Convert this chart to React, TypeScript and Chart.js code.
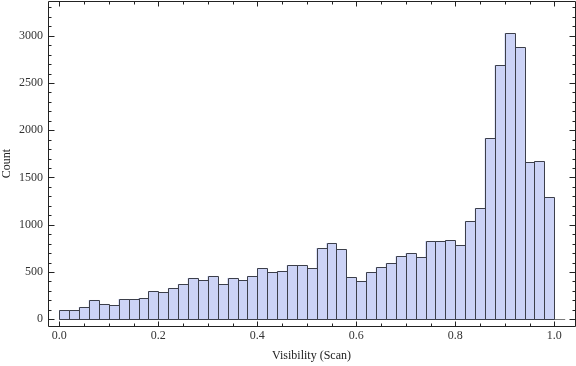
import React, { useEffect, useRef } from 'react';
import { Chart, registerables } from 'chart.js';

Chart.register(...registerables);

// Histogram bins (left edges), bin width 0.02
const binStarts = [
  0.0, 0.02, 0.04, 0.06, 0.08, 0.1, 0.12, 0.14, 0.16, 0.18,
  0.2, 0.22, 0.24, 0.26, 0.28, 0.3, 0.32, 0.34, 0.36, 0.38,
  0.4, 0.42, 0.44, 0.46, 0.48, 0.5, 0.52, 0.54, 0.56, 0.58,
  0.6, 0.62, 0.64, 0.66, 0.68, 0.7, 0.72, 0.74, 0.76, 0.78,
  0.8, 0.82, 0.84, 0.86, 0.88, 0.9, 0.92, 0.94, 0.96, 0.98,
];
const binWidth = 0.02;
const counts = [
  95, 95, 127, 201, 159, 148, 211, 211, 222, 296,
  285, 328, 370, 434, 412, 455, 370, 434, 412, 455,
  539, 497, 508, 571, 571, 539, 751, 804, 740, 444,
  402, 497, 550, 592, 666, 698, 656, 825, 825, 835,
  783, 1036, 1174, 1914, 2686, 3024, 2876, 1660, 1671, 1290,
];

const xMajorTicks = [0, 0.2, 0.4, 0.6, 0.8, 1.0];
const xMinorTicks = [0.05, 0.1, 0.15, 0.25, 0.3, 0.35, 0.45, 0.5, 0.55, 0.65, 0.7, 0.75, 0.85, 0.9, 0.95];
const yMajorTicks = [0, 500, 1000, 1500, 2000, 2500, 3000];
const yMinorTicks = [
  100, 200, 300, 400, 600, 700, 800, 900, 1100, 1200, 1300, 1400,
  1600, 1700, 1800, 1900, 2100, 2200, 2300, 2400, 2600, 2700, 2800, 2900,
  3100, 3200, 3300,
];
const axisLineStart = 0;
const axisLineEnd = 1.022;

const xTitle = 'Visibility (Scan)';
const yTitle = 'Count';

const FONT = "'Liberation Serif', 'DejaVu Serif', serif";

export default function App() {
  const canvasRef = useRef<HTMLCanvasElement | null>(null);

  useEffect(() => {
    document.body.style.margin = '0';
    const canvas = canvasRef.current;
    if (!canvas) return;

    const framePlugin = {
      id: 'mmaFrame',
      beforeDatasetsDraw(chart: any) {
        const { ctx, scales } = chart;
        const x = scales.x;
        const y = scales.y;
        ctx.save();
        ctx.strokeStyle = '#7a7a7a';
        ctx.lineWidth = 1;
        const py = Math.round(y.getPixelForValue(0)) + 0.5;
        ctx.beginPath();
        ctx.moveTo(x.getPixelForValue(axisLineStart), py);
        ctx.lineTo(x.getPixelForValue(axisLineEnd), py);
        ctx.stroke();
        ctx.restore();
      },
      afterDatasetsDraw(chart: any) {
        // crisp bar edges, taken from the library's own bar elements
        const { ctx } = chart;
        const meta = chart.getDatasetMeta(0);
        ctx.save();
        ctx.strokeStyle = '#3c3f4a';
        ctx.lineWidth = 1;
        ctx.beginPath();
        meta.data.forEach((bar: any) => {
          const p = bar.getProps(['x', 'y', 'base', 'width'], true);
          const l = Math.round(p.x - p.width / 2) + 0.5;
          const r = Math.round(p.x + p.width / 2) + 0.5;
          const t = Math.round(p.y) + 0.5;
          const b = Math.round(p.base) + 0.5;
          ctx.rect(l, t, r - l, b - t);
        });
        ctx.stroke();
        ctx.restore();
      },
      afterDraw(chart: any) {
        const { ctx, chartArea, scales } = chart;
        const x = scales.x;
        const y = scales.y;
        const { left, right, top, bottom } = chartArea;
        ctx.save();
        ctx.strokeStyle = '#222';
        ctx.lineWidth = 1;
        const L = left + 0.5;
        const R = right + 0.5;
        const T = top + 0.5;
        const B = bottom + 0.5;
        ctx.beginPath();
        ctx.moveTo(L, T);
        ctx.lineTo(R, T);
        ctx.lineTo(R, B);
        ctx.lineTo(L, B);
        ctx.closePath();
        ctx.stroke();
        ctx.beginPath();
        const xt = (vals: number[], len: number) => {
          vals.forEach((v) => {
            const px = Math.round(x.getPixelForValue(v)) + 0.5;
            ctx.moveTo(px, B);
            ctx.lineTo(px, B - len);
            ctx.moveTo(px, T);
            ctx.lineTo(px, T + len);
          });
        };
        const yt = (vals: number[], len: number) => {
          vals.forEach((v) => {
            const py = Math.round(y.getPixelForValue(v)) + 0.5;
            ctx.moveTo(L, py);
            ctx.lineTo(L + len, py);
            ctx.moveTo(R, py);
            ctx.lineTo(R - len, py);
          });
        };
        xt(xMajorTicks, 5);
        xt(xMinorTicks, 3);
        yt(yMajorTicks, 6);
        yt(yMinorTicks, 3);
        ctx.stroke();
        ctx.restore();
      },
    };

    const data = binStarts.map((s, i) => ({ x: s + binWidth / 2, y: counts[i] }));

    const chart = new Chart(canvas, {
      type: 'bar',
      data: {
        datasets: [
          {
            data,
            backgroundColor: 'rgb(204, 211, 246)',
            borderWidth: 0,
            barPercentage: 1,
            categoryPercentage: 1,
          },
        ],
      },
      options: {
        responsive: false,
        animation: false,
        events: [],
        layout: { padding: { top: 1, right: 1, left: 0, bottom: 0 } },
        plugins: {
          legend: { display: false },
          tooltip: { enabled: false },
        },
        scales: {
          x: {
            type: 'linear',
            min: -0.02283,
            max: 1.04182,
            offset: false,
            grid: { display: false, drawTicks: false },
            border: { display: false },
            afterBuildTicks: (s: any) => {
              s.ticks = xMajorTicks.map((v) => ({ value: v }));
            },
            ticks: {
              padding: 3,
              color: '#333',
              font: { family: FONT, size: 12 },
              maxRotation: 0,
              autoSkip: false,
              callback: (v: any) => Number(v).toFixed(1),
            },
            title: {
              display: true,
              text: xTitle,
              color: '#222',
              font: { family: FONT, size: 12 },
              padding: { top: 0, bottom: 3 },
            },
            afterFit: (s: any) => {
              s.height = 40;
              s.paddingLeft = 0;
              s.paddingRight = 0;
            },
          },
          y: {
            type: 'linear',
            min: -70.9,
            max: 3367,
            grid: { display: false, drawTicks: false },
            border: { display: false },
            afterBuildTicks: (s: any) => {
              s.ticks = yMajorTicks.map((v) => ({ value: v }));
            },
            ticks: {
              padding: 5,
              color: '#333',
              font: { family: FONT, size: 12 },
              autoSkip: false,
              callback: (v: any) => String(v),
            },
            title: {
              display: true,
              text: yTitle,
              color: '#222',
              font: { family: FONT, size: 12 },
              padding: { top: 0, bottom: 0 },
            },
            afterFit: (s: any) => {
              s.width = 48;
              s.paddingTop = 0;
              s.paddingBottom = 0;
            },
          },
        },
      },
      plugins: [framePlugin],
    });

    return () => {
      chart.destroy();
    };
  }, []);

  return (
    <div style={{ width: 576, height: 366, position: 'relative' }}>
      <canvas ref={canvasRef} width={576} height={366} style={{ display: 'block' }} />
    </div>
  );
}
